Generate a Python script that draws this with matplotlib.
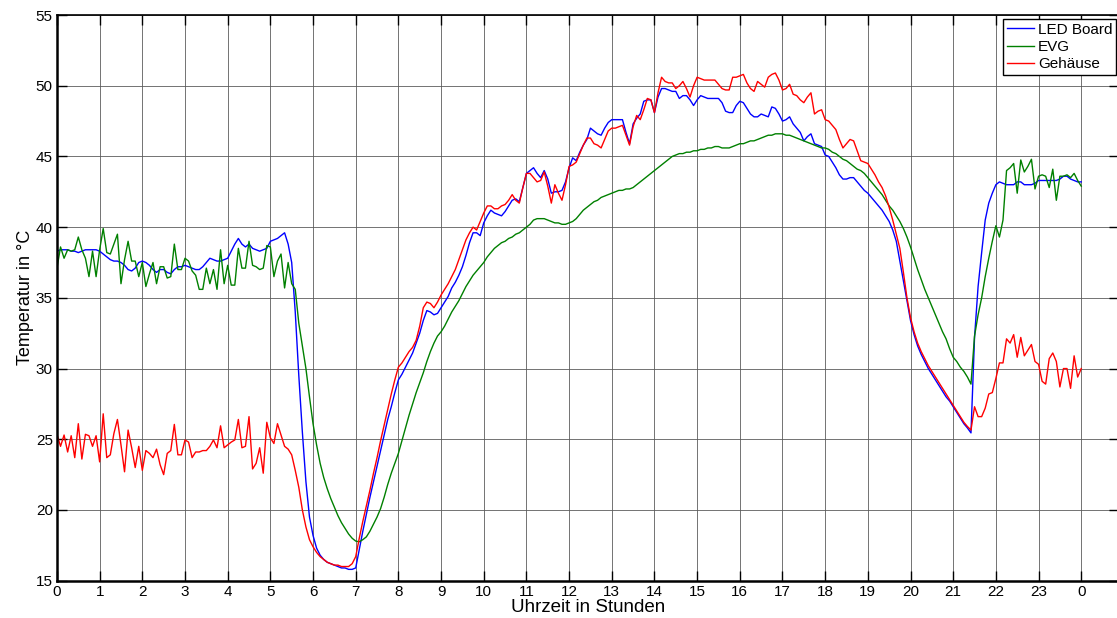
import numpy as np
import matplotlib
matplotlib.use("Agg")
import matplotlib.pyplot as plt

plt.rcParams['font.family'] = ['Liberation Sans', 'DejaVu Sans']

# Messwerte alle 5 Minuten, eine Zeile pro Stunde (0 Uhr bis 0 Uhr)
led_board = [
    38.3, 38.4, 38.4, 38.4, 38.3, 38.3, 38.2, 38.3, 38.4, 38.4, 38.4, 38.4,
    38.3, 38.1, 37.9, 37.7, 37.6, 37.6, 37.5, 37.3, 37.0, 36.9, 37.1, 37.5,
    37.6, 37.5, 37.3, 37.0, 36.8, 37.0, 37.0, 36.8, 36.7, 37.0, 37.2, 37.2,
    37.3, 37.2, 37.1, 37.0, 37.0, 37.2, 37.5, 37.8, 37.7, 37.6, 37.6, 37.7,
    37.8, 38.3, 38.8, 39.2, 38.8, 38.6, 38.8, 38.5, 38.4, 38.3, 38.4, 38.5,
    39.0, 39.1, 39.2, 39.4, 39.6, 38.8, 37.5, 34.0, 29.5, 25.5, 22.0, 19.5,
    18.2, 17.3, 16.8, 16.5, 16.3, 16.2, 16.1, 16.0, 15.9, 15.9, 15.8, 15.8,
    15.9, 17.2, 18.5, 19.7, 20.9, 22.0, 23.1, 24.2, 25.3, 26.4, 27.3, 28.3,
    29.2, 29.6, 30.1, 30.6, 31.1, 31.8, 32.5, 33.4, 34.1, 34.0, 33.8, 33.9,
    34.3, 34.7, 35.1, 35.7, 36.1, 36.6, 37.2, 38.0, 38.9, 39.6, 39.6, 39.4,
    40.3, 40.8, 41.2, 41.0, 40.9, 40.8, 41.1, 41.5, 41.9, 42.0, 41.8, 42.8,
    43.8, 44.0, 44.2, 43.8, 43.5, 44.0, 43.4, 42.4, 42.5, 42.5, 42.6, 43.2,
    44.2, 44.9, 44.7, 45.3, 45.8, 46.2, 47.0, 46.8, 46.6, 46.5, 47.0, 47.4,
    47.6, 47.6, 47.6, 47.6, 46.7, 45.9, 47.3, 47.7, 48.0, 48.9, 49.0, 49.0,
    48.1, 49.2, 49.8, 49.8, 49.7, 49.6, 49.6, 49.1, 49.3, 49.3, 49.0, 48.6,
    49.0, 49.3, 49.2, 49.1, 49.1, 49.1, 49.1, 48.8, 48.2, 48.1, 48.1, 48.6,
    48.9, 48.8, 48.4, 48.0, 47.8, 47.8, 48.0, 47.9, 47.8, 48.5, 48.4, 48.0,
    47.5, 47.6, 47.8, 47.3, 47.0, 46.7, 46.1, 46.4, 46.6, 45.9, 45.8, 45.7,
    45.1, 45.0, 44.6, 44.2, 43.7, 43.4, 43.4, 43.5, 43.5, 43.2, 42.9, 42.6,
    42.4, 42.1, 41.8, 41.5, 41.2, 40.8, 40.4, 39.8, 39.0, 37.6, 36.2, 34.8,
    33.4, 32.4, 31.6, 31.0, 30.5, 30.0, 29.6, 29.2, 28.8, 28.4, 28.0, 27.7,
    27.3, 26.9, 26.5, 26.1, 25.8, 25.45, 32.2, 35.8, 38.2, 40.5, 41.7, 42.4,
    43.0, 43.2, 43.1, 43.0, 43.0, 43.0, 43.2, 43.2, 43.0, 43.0, 43.0, 43.1,
    43.3, 43.3, 43.3, 43.3, 43.3, 43.3, 43.4, 43.6, 43.6, 43.4, 43.3, 43.2,
    43.2,
]

evg = [
    37.1, 38.6, 37.8, 38.4, 38.3, 38.4, 39.3, 38.4, 37.8, 36.5, 38.3, 36.5,
    38.4, 39.9, 38.2, 38.1, 38.8, 39.5, 36.0, 37.7, 39.0, 37.6, 37.6, 36.5,
    37.5, 35.8, 36.7, 37.5, 36.0, 37.2, 37.2, 36.4, 36.5, 38.8, 37.0, 37.0,
    37.8, 37.6, 36.9, 36.6, 35.6, 35.6, 37.1, 36.0, 37.0, 35.6, 38.4, 36.0,
    37.3, 35.9, 35.9, 38.5, 37.1, 37.1, 39.0, 37.3, 37.2, 37.0, 37.1, 38.7,
    38.6, 36.5, 37.6, 38.1, 35.7, 37.5, 36.0, 35.6, 33.2, 31.6, 30.0, 28.0,
    26.1, 24.6, 23.3, 22.3, 21.5, 20.8, 20.2, 19.6, 19.1, 18.7, 18.3, 18.0,
    17.8, 17.75, 17.9, 18.1, 18.5, 19.0, 19.5, 20.1, 20.9, 21.8, 22.6, 23.3,
    24.0, 24.9, 25.8, 26.7, 27.5, 28.3, 29.0, 29.7, 30.5, 31.2, 31.8, 32.3,
    32.6, 33.0, 33.5, 34.0, 34.4, 34.8, 35.3, 35.8, 36.2, 36.6, 36.9, 37.2,
    37.5, 37.9, 38.2, 38.5, 38.7, 38.9, 39.0, 39.2, 39.3, 39.5, 39.6, 39.8,
    40.0, 40.2, 40.5, 40.6, 40.6, 40.6, 40.5, 40.4, 40.3, 40.3, 40.2, 40.2,
    40.3, 40.4, 40.6, 40.9, 41.2, 41.4, 41.6, 41.8, 41.9, 42.1, 42.2, 42.3,
    42.4, 42.5, 42.6, 42.6, 42.7, 42.7, 42.8, 43.0, 43.2, 43.4, 43.6, 43.8,
    44.0, 44.2, 44.4, 44.6, 44.8, 45.0, 45.1, 45.2, 45.2, 45.3, 45.3, 45.4,
    45.4, 45.5, 45.5, 45.6, 45.6, 45.7, 45.7, 45.6, 45.6, 45.6, 45.7, 45.8,
    45.9, 45.9, 46.0, 46.1, 46.1, 46.2, 46.3, 46.4, 46.5, 46.5, 46.6, 46.6,
    46.6, 46.5, 46.5, 46.4, 46.3, 46.2, 46.1, 46.0, 45.9, 45.8, 45.7, 45.6,
    45.6, 45.5, 45.3, 45.2, 45.0, 44.8, 44.7, 44.5, 44.3, 44.1, 44.0, 43.8,
    43.5, 43.2, 42.9, 42.6, 42.3, 41.9, 41.5, 41.2, 40.8, 40.4, 39.9, 39.3,
    38.6, 37.8, 37.0, 36.3, 35.6, 35.0, 34.4, 33.8, 33.2, 32.6, 32.1, 31.4,
    30.8, 30.5, 30.1, 29.8, 29.4, 28.9, 32.3, 33.8, 35.0, 36.5, 37.8, 39.0,
    40.1, 39.3, 40.5, 44.0, 44.2, 44.5, 42.4, 44.75, 43.9, 44.3, 44.8, 42.7,
    43.6, 43.7, 43.6, 42.8, 44.1, 41.9, 43.6, 43.6, 43.7, 43.5, 43.8, 43.3,
    42.9,
]

gehaeuse = [
    25.35, 24.5, 25.3, 24.1, 25.25, 23.7, 26.1, 23.6, 25.35, 25.25, 24.5, 25.25,
    23.4, 26.8, 23.7, 23.9, 25.4, 26.4, 24.6, 22.7, 25.65, 24.4, 23.0, 24.5,
    22.8, 24.2, 24.0, 23.7, 24.3, 23.2, 22.5, 24.0, 24.2, 26.05, 23.9, 23.9,
    24.95, 24.8, 23.7, 24.1, 24.1, 24.2, 24.2, 24.5, 24.95, 24.4, 25.95, 24.4,
    24.6, 24.8, 24.95, 26.4, 24.4, 24.5, 26.6, 22.9, 23.3, 24.4, 22.6, 26.2,
    25.1, 24.7, 26.1, 25.3, 24.5, 24.3, 23.9, 22.8, 21.6, 20.0, 18.8, 17.9,
    17.4, 17.0, 16.7, 16.5, 16.3, 16.2, 16.1, 16.1, 16.0, 16.0, 16.0, 16.2,
    16.7, 18.0, 19.2, 20.3, 21.4, 22.6, 23.7, 24.9, 26.0, 27.1, 28.2, 29.2,
    30.1, 30.4, 30.8, 31.2, 31.5, 32.0, 33.0, 34.3, 34.7, 34.6, 34.3, 34.7,
    35.2, 35.6, 36.0, 36.5, 37.0, 37.7, 38.4, 39.1, 39.6, 40.0, 39.8, 40.4,
    41.0, 41.5, 41.5, 41.3, 41.3, 41.5, 41.6, 41.9, 42.3, 41.9, 41.7, 42.8,
    43.8, 43.8, 43.5, 43.2, 43.3, 43.9, 42.9, 41.7, 43.0, 42.4, 41.9, 43.0,
    44.3, 44.4, 44.6, 45.2, 45.8, 46.3, 46.3, 45.9, 45.8, 45.6, 46.2, 46.8,
    47.0, 47.0, 47.1, 47.2, 46.5, 45.8, 47.1, 47.9, 47.6, 48.3, 49.1, 49.0,
    48.1, 49.5, 50.6, 50.3, 50.2, 50.2, 49.8, 50.0, 50.3, 49.8, 49.2, 50.0,
    50.6, 50.5, 50.4, 50.4, 50.4, 50.4, 50.1, 49.8, 49.7, 49.7, 50.6, 50.6,
    50.7, 50.8, 50.2, 49.8, 49.6, 50.3, 50.1, 49.9, 50.6, 50.8, 50.9, 50.4,
    49.7, 49.8, 50.1, 49.4, 49.3, 49.0, 48.8, 49.2, 49.5, 48.0, 48.2, 48.3,
    47.6, 47.5, 47.2, 46.9, 46.2, 45.6, 45.9, 46.2, 46.1, 45.4, 44.7, 44.6,
    44.5, 44.1, 43.7, 43.2, 42.8, 42.2, 41.4, 40.5, 39.5, 38.5, 36.8, 35.0,
    33.6, 32.6, 31.8, 31.2, 30.7, 30.2, 29.8, 29.4, 29.0, 28.6, 28.2, 27.8,
    27.4, 27.0, 26.6, 26.2, 25.9, 25.65, 27.3, 26.6, 26.6, 27.2, 28.2, 28.3,
    29.3, 30.4, 30.4, 32.1, 31.8, 32.4, 30.8, 32.2, 30.9, 31.3, 31.7, 30.5,
    30.3, 29.1, 28.9, 30.7, 31.1, 30.5, 28.7, 30.0, 30.0, 28.6, 30.9, 29.4,
    30.0,
]

stunden = np.arange(len(led_board)) / 12.0
tick_pos = list(range(25))
tick_labels = [str(h) for h in range(24)] + ['0']

fig = plt.figure(figsize=(11.17, 6.18), dpi=100)
ax = fig.add_axes([0.051, 0.0604, 0.9506, 0.9153])

ax.plot(stunden, led_board, color='#0000ff', lw=1.0, label='LED Board')
ax.plot(stunden, evg, color='#008000', lw=1.0, label='EVG')
ax.plot(stunden, gehaeuse, color='#ff0000', lw=1.0, label='Gehäuse')

ax.set_xlim(0, 24.88)
ax.set_ylim(15, 55)
ax.set_xticks(tick_pos)
ax.set_xticklabels(tick_labels)
ax.set_yticks(np.arange(15, 56, 5))
ax.grid(True, color='0.35', lw=0.7, alpha=0.85)
ax.set_axisbelow(True)

ax.tick_params(direction='in', length=7, width=1, top=True, right=True,
               labelsize=11, pad=3, colors='black')
for side in ['left', 'bottom']:
    ax.spines[side].set_linewidth(1.8)
ax.spines['top'].set_linewidth(1.2)
ax.spines['right'].set_visible(False)

ax.set_xlabel('Uhrzeit in Stunden', fontsize=13.5, labelpad=0)
ax.set_ylabel('Temperatur in °C', fontsize=13, labelpad=1)

leg = ax.legend(loc='upper left', bbox_to_anchor=(1003 / 1117, 1 - 19 / 618),
                bbox_transform=fig.transFigure, fontsize=11, frameon=True,
                fancybox=False, handlelength=1.8, handletextpad=0.25,
                labelspacing=0.2, borderpad=0.25, borderaxespad=0)
leg.get_frame().set_edgecolor('black')
leg.get_frame().set_linewidth(1.0)
leg.get_frame().set_alpha(1)

fig.savefig('out.png', dpi=100)
